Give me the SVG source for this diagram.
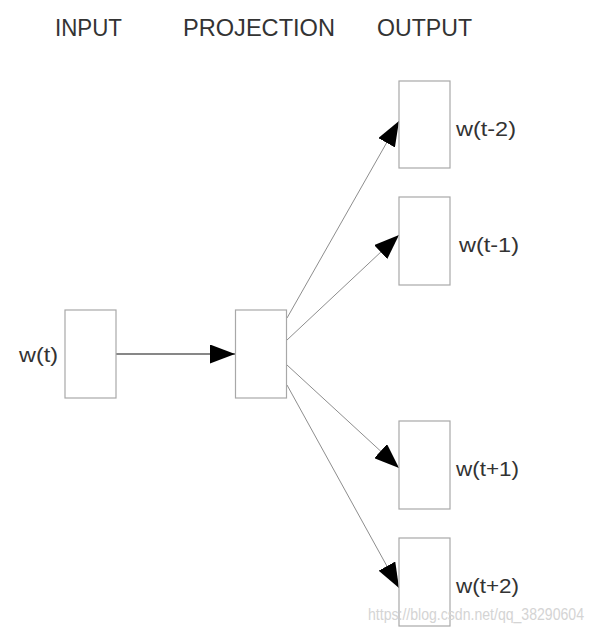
<svg xmlns="http://www.w3.org/2000/svg" width="593" height="635" viewBox="0 0 593 635">
<style>
.box{fill:#fff;stroke:#a8a8a8;stroke-width:1.2}
.title{font-family:"Liberation Sans",Arial,sans-serif;font-size:23.5px;fill:#333}
.lbl{font-family:"Liberation Sans",Arial,sans-serif;font-size:21px;fill:#333}
.wm{font-family:"Liberation Sans",Arial,sans-serif;font-size:16px;fill:#d4d4d4}
.edge{stroke:#808080;stroke-width:0.9;fill:none}
.edge.main{stroke:#111;stroke-width:1.1}
</style>
<defs>
<marker id="ah" viewBox="0 0 25 19" refX="25" refY="9.5" markerWidth="25" markerHeight="19" markerUnits="userSpaceOnUse" orient="auto">
<path d="M0,0 L25,9.5 L0,19 Z" fill="#000"/>
</marker>
</defs>
<rect width="593" height="635" fill="#fff"/>
<g id="titles">
<text class="title" x="55" y="36" textLength="67" lengthAdjust="spacingAndGlyphs">INPUT</text>
<text class="title" x="183" y="36" textLength="152" lengthAdjust="spacingAndGlyphs">PROJECTION</text>
<text class="title" x="377" y="36" textLength="95" lengthAdjust="spacingAndGlyphs">OUTPUT</text>
</g>
<g id="connectors">
<line class="edge main" x1="115" y1="354" x2="235" y2="354" marker-end="url(#ah)"/>
<line class="edge" x1="287" y1="318" x2="399" y2="121" marker-end="url(#ah)"/>
<line class="edge" x1="287" y1="340" x2="399" y2="235" marker-end="url(#ah)"/>
<line class="edge" x1="287" y1="365" x2="399" y2="468" marker-end="url(#ah)"/>
<line class="edge" x1="287" y1="385" x2="399" y2="588" marker-end="url(#ah)"/>
</g>
<g id="node-input">
<rect class="box" x="65" y="310" width="51" height="88"/>
<text class="lbl" x="19" y="362" textLength="39" lengthAdjust="spacingAndGlyphs">w(t)</text>
</g>
<g id="node-projection">
<rect class="box" x="235.5" y="310" width="51" height="88"/>
</g>
<g id="node-wt-2">
<rect class="box" x="399" y="81" width="51" height="87"/>
<text class="lbl" x="456" y="136" textLength="60" lengthAdjust="spacingAndGlyphs">w(t-2)</text>
</g>
<g id="node-wt-1">
<rect class="box" x="399" y="197" width="51" height="88"/>
<text class="lbl" x="459" y="252" textLength="60" lengthAdjust="spacingAndGlyphs">w(t-1)</text>
</g>
<g id="node-wt+1">
<rect class="box" x="399" y="421" width="51" height="88"/>
<text class="lbl" x="456" y="476" textLength="63" lengthAdjust="spacingAndGlyphs">w(t+1)</text>
</g>
<g id="node-wt+2">
<rect class="box" x="399" y="538" width="51" height="88"/>
<text class="lbl" x="456" y="593" textLength="63" lengthAdjust="spacingAndGlyphs">w(t+2)</text>
</g>
<text class="wm" x="368" y="620" textLength="216" lengthAdjust="spacingAndGlyphs">https://blog.csdn.net/qq_38290604</text>
</svg>
